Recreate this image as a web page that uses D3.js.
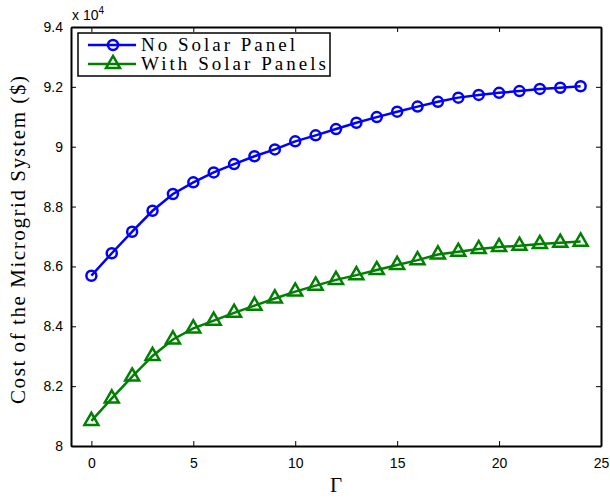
<!DOCTYPE html>
<html>
<head>
<meta charset="utf-8">
<script src="https://cdn.jsdelivr.net/npm/d3@7"></script>
<style>
  body { margin: 0; background: #fff; }
  text { fill: #000; }
</style>
</head>
<body>
<script>
// Gamma values 0..24
var gamma = [0,1,2,3,4,5,6,7,8,9,10,11,12,13,14,15,16,17,18,19,20,21,22,23,24]

// cost, in $
var noSolar = [85690,86440,87160,87860,88420,88810,89140,89420,89680,89910,
               90180,90380,90590,90800,90990,91170,91340,91500,91640,91730,
               91800,91860,91930,91970,92020]
var withSolar = [80840,81590,82320,83010,83560,83930,84190,84450,84690,84930,
                 85160,85360,85550,85710,85880,86050,86210,86400,86490,86580,
                 86650,86690,86750,86790,86830]

var xTicks = [0,5,10,15,20,25]
var yTicks = [80000,82000,84000,86000,88000,90000,92000,94000]
var legendLabels = ["No Solar Panel", "With Solar Panels"]

var screen = {width: 610, height: 498}
var margins = {top: 27, bottom: 52, left: 71, right: 9}
var width = screen.width - margins.left - margins.right
var height = screen.height - margins.top - margins.bottom

var xScale = d3.scaleLinear().domain([-1, 25]).range([0, width])
var yScale = d3.scaleLinear().domain([80000, 94000]).range([height, 0])

var svg = d3.select("body").append("svg")
    .attr("width", screen.width)
    .attr("height", screen.height)

var plot = svg.append("g")
    .attr("transform", "translate(" + margins.left + "," + margins.top + ")")

var tickFont = "'Liberation Sans', Arial, sans-serif"
var serifFont = "'Liberation Serif', serif"

// axes (ticks pointing in, box on all sides)
plot.append("g")
    .attr("transform", "translate(0," + height + ")")
    .call(d3.axisBottom(xScale).tickValues(xTicks).tickSizeInner(-5).tickSizeOuter(0).tickPadding(12))
plot.append("g")
    .call(d3.axisTop(xScale).tickValues(xTicks).tickSizeInner(-5).tickSizeOuter(0).tickFormat(""))
plot.append("g")
    .call(d3.axisLeft(yScale).tickValues(yTicks).tickSizeInner(-5).tickSizeOuter(0).tickPadding(8)
          .tickFormat(function(d) { return d3.format("~g")(d / 10000) }))
plot.append("g")
    .attr("transform", "translate(" + width + ",0)")
    .call(d3.axisRight(yScale).tickValues(yTicks).tickSizeInner(-5).tickSizeOuter(0).tickFormat(""))

plot.selectAll(".domain").attr("stroke", "#000").attr("stroke-width", 2)
plot.selectAll(".tick line").attr("stroke", "#000").attr("stroke-width", 1)
plot.selectAll(".tick text")
    .style("font-family", tickFont)
    .style("font-size", "14px")
    .attr("fill", "#000")

// x 10^4 label
var expo = svg.append("text")
    .attr("x", 72)
    .attr("y", 20)
    .style("font-family", tickFont)
    .style("font-size", "14px")
expo.append("tspan").text("x 10")
expo.append("tspan").attr("dy", -6).style("font-size", "10px").text("4")

// axis titles
svg.append("text")
    .attr("transform", "translate(25," + 240 + ") rotate(-90)")
    .style("text-anchor", "middle")
    .style("font-family", serifFont)
    .style("font-size", "21px")
    .attr("textLength", 328)
    .attr("lengthAdjust", "spacing")
    .text("Cost of the Microgrid System ($)")

svg.append("text")
    .attr("x", margins.left + xScale(12))
    .attr("y", 492)
    .style("text-anchor", "middle")
    .style("font-family", serifFont)
    .style("font-size", "21px")
    .text("Γ")

var line = d3.line()
    .x(function(d, i) { return xScale(gamma[i]) })
    .y(function(d) { return yScale(d) })

var triangle = d3.symbol().type(d3.symbolTriangle).size(85)

// blue series
plot.append("path")
    .datum(noSolar)
    .attr("fill", "none")
    .attr("stroke", "#0000ff")
    .attr("stroke-width", 2.5)
    .attr("d", line)

plot.append("g").selectAll("circle")
    .data(noSolar)
    .enter()
    .append("circle")
    .attr("cx", function(d, i) { return xScale(gamma[i]) })
    .attr("cy", function(d) { return yScale(d) })
    .attr("r", 5)
    .attr("fill", "none")
    .attr("stroke", "#0000ff")
    .attr("stroke-width", 2.5)

// green series
plot.append("path")
    .datum(withSolar)
    .attr("fill", "none")
    .attr("stroke", "#008000")
    .attr("stroke-width", 2.5)
    .attr("d", line)

plot.append("g").selectAll("path")
    .data(withSolar)
    .enter()
    .append("path")
    .attr("d", triangle)
    .attr("transform", function(d, i) { return "translate(" + xScale(gamma[i]) + "," + yScale(d) + ")" })
    .attr("fill", "none")
    .attr("stroke", "#008000")
    .attr("stroke-width", 2.5)

// legend
var legend = svg.append("g").attr("transform", "translate(78,33)")
legend.append("rect")
    .attr("width", 252)
    .attr("height", 43)
    .attr("fill", "#fff")
    .attr("stroke", "#000")
    .attr("stroke-width", 1.5)

var colors = ["#0000ff", "#008000"]
var textWidths = [154, 185]
var rows = legend.selectAll("g.row")
    .data(legendLabels)
    .enter()
    .append("g")
    .attr("class", "row")
    .attr("transform", function(d, i) { return "translate(0," + (12 + i * 19) + ")" })

rows.append("line")
    .attr("x1", 10).attr("x2", 58)
    .attr("stroke", function(d, i) { return colors[i] })
    .attr("stroke-width", 2.5)

rows.each(function(d, i) {
    var g = d3.select(this)
    if (i == 0) {
        g.append("circle").attr("cx", 35).attr("r", 5)
            .attr("fill", "none").attr("stroke", colors[0]).attr("stroke-width", 2.5)
    } else {
        g.append("path").attr("d", triangle).attr("transform", "translate(35,0)")
            .attr("fill", "none").attr("stroke", colors[1]).attr("stroke-width", 2.5)
    }
})

rows.append("text")
    .attr("x", 63)
    .attr("y", 6)
    .style("font-family", serifFont)
    .style("font-size", "19px")
    .attr("textLength", function(d, i) { return textWidths[i] })
    .attr("lengthAdjust", "spacing")
    .text(function(d) { return d })
</script>
</body>
</html>
